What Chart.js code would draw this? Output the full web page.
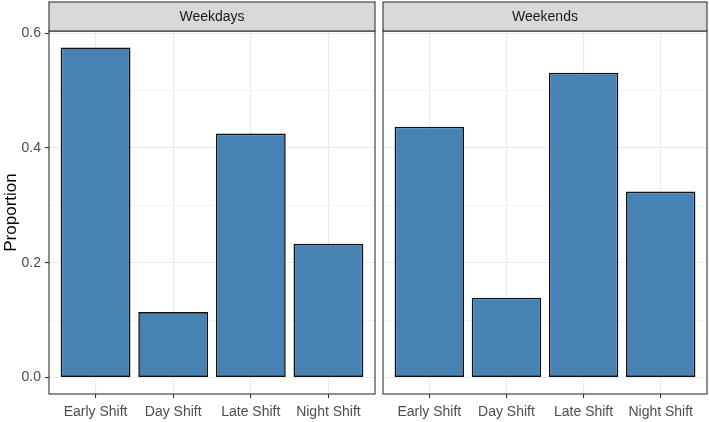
<!DOCTYPE html>
<html>
<head>
<meta charset="utf-8">
<script src="https://cdn.jsdelivr.net/npm/chart.js@4.4.1/dist/chart.umd.min.js"></script>
<style>
html,body{margin:0;padding:0;background:#fff;}
#wrap{position:relative;width:709px;height:422px;}
.pane{position:absolute;top:0;height:422px;}
</style>
</head>
<body>
<div id="wrap">
  <div class="pane" style="left:0;width:379px;"><canvas id="c1"></canvas></div>
  <div class="pane" style="left:379px;width:330px;"><canvas id="c2"></canvas></div>
</div>
<script>
const categories = ["Early Shift", "Day Shift", "Late Shift", "Night Shift"];
const panels = ["Weekdays", "Weekends"];
const weekdays = [0.575, 0.114, 0.425, 0.233];
const weekends = [0.437, 0.139, 0.531, 0.324];
const yTicks = [0, 0.1, 0.2, 0.3, 0.4, 0.5, 0.6];
const yTitle = "Proportion";

const allVals = weekdays.concat(weekends);
const vMax = Math.max(...allVals);
const yMin = -0.05 * vMax;
const yMax = 1.05 * vMax;

const FONT = "'Liberation Sans', Arial, sans-serif";
const STRIP_TOP = 2;
const PANEL_TOP = 31;

const panelPlugin = {
  id: 'panelDeco',
  afterDraw(chart, args, opts) {
    const ctx = chart.ctx;
    const a = chart.chartArea;
    ctx.save();
    ctx.strokeStyle = '#333333';
    ctx.lineWidth = 1.1;
    ctx.strokeRect(a.left, a.top, a.right - a.left, a.bottom - a.top);
    ctx.fillStyle = '#D9D9D9';
    ctx.fillRect(a.left, STRIP_TOP, a.right - a.left, PANEL_TOP - STRIP_TOP);
    ctx.strokeRect(a.left, STRIP_TOP, a.right - a.left, PANEL_TOP - STRIP_TOP);
    ctx.fillStyle = '#1A1A1A';
    ctx.font = '14px ' + FONT;
    ctx.textAlign = 'center';
    ctx.textBaseline = 'middle';
    ctx.fillText(opts.label, (a.left + a.right) / 2, (STRIP_TOP + PANEL_TOP) / 2 + 0.5);
    ctx.restore();
  }
};

function makeChart(id, values, label, showY) {
  const data = values.map((v, i) => ({ x: i + 1, y: v }));
  return new Chart(document.getElementById(id), {
    type: 'bar',
    data: {
      datasets: [{
        data: data,
        backgroundColor: '#4682B4',
        borderColor: '#111111',
        borderWidth: 1.6,
        borderSkipped: false,
        categoryPercentage: 1,
        barPercentage: 0.9
      }]
    },
    options: {
      responsive: true,
      maintainAspectRatio: false,
      animation: false,
      devicePixelRatio: 1,
      layout: { padding: { left: showY ? 0 : 4, right: showY ? 4 : 2, top: PANEL_TOP, bottom: 0 } },
      plugins: {
        legend: { display: false },
        tooltip: { enabled: false },
        panelDeco: { label: label }
      },
      scales: {
        x: {
          type: 'linear',
          min: 0.4,
          max: 4.6,
          offset: false,
          bounds: 'data',
          afterBuildTicks(scale) { scale.ticks = categories.map((c, i) => ({ value: i + 1 })); },
          afterFit(scale) { scale.height = 28; },
          border: { display: false },
          grid: { offset: false, color: '#EBEBEB', lineWidth: 1.1, tickColor: '#333333', tickLength: 4, tickWidth: 1.1 },
          ticks: {
            autoSkip: false, maxRotation: 0, padding: 6,
            color: '#4D4D4D', font: { family: FONT, size: 14 },
            callback: (v) => categories[Math.round(v) - 1]
          }
        },
        y: {
          type: 'linear',
          min: yMin,
          max: yMax,
          afterBuildTicks(scale) { scale.ticks = yTicks.map(v => ({ value: v })); },
          afterFit(scale) { scale.width = showY ? 49 : 0; },
          border: { display: false },
          grid: {
            color: '#EBEBEB',
            lineWidth: (c) => (c.tick && Math.round(c.tick.value * 10) % 2 === 0) ? 1.1 : 0.55,
            drawTicks: showY,
            tickLength: 4,
            tickWidth: 1.1,
            tickColor: (c) => (c.tick && Math.round(c.tick.value * 10) % 2 === 0) ? '#333333' : 'rgba(0,0,0,0)'
          },
          ticks: {
            display: showY,
            padding: 4,
            color: '#4D4D4D', font: { family: FONT, size: 14 },
            callback: (v) => (Math.round(v * 10) % 2 === 0) ? v.toFixed(1) : ''
          },
          title: {
            display: showY,
            text: yTitle,
            color: '#000000',
            font: { family: FONT, size: 17 },
            padding: { top: 1, bottom: 2 }
          }
        }
      }
    },
    plugins: [panelPlugin]
  });
}

makeChart('c1', weekdays, panels[0], true);
makeChart('c2', weekends, panels[1], false);
</script>
</body>
</html>
